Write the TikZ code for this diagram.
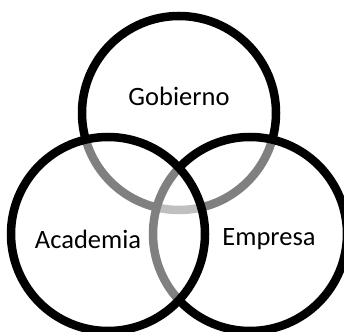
\documentclass[tikz,border=0pt]{standalone}
\usepackage{fontspec}
\setmainfont{Carlito}
\usepackage{tikz}
\usetikzlibrary{positioning}
\tikzstyle{ring} = [line width=8.5pt, draw=black, fill=white, fill opacity=0.5]

\begin{document}
\begin{tikzpicture}[x=1pt,y=1pt]
\tikzset{lbl/.style={font=\fontsize{26.5}{31}\selectfont, text=black}}
\useasboundingbox (0,0) rectangle (344,331);
\clip (0,0) rectangle (344,331);

\draw[ring] (179,218) circle (97);
\draw[ring] (250,97) circle (97);
\draw[ring] (108,97) circle (97);

\node[lbl] (gob) at (179,235) {Gobierno};
\node[lbl] (acad) at (88,92) {Academia};
\node[lbl] (emp) at (269,92) {Empresa};

\end{tikzpicture}
\end{document}
